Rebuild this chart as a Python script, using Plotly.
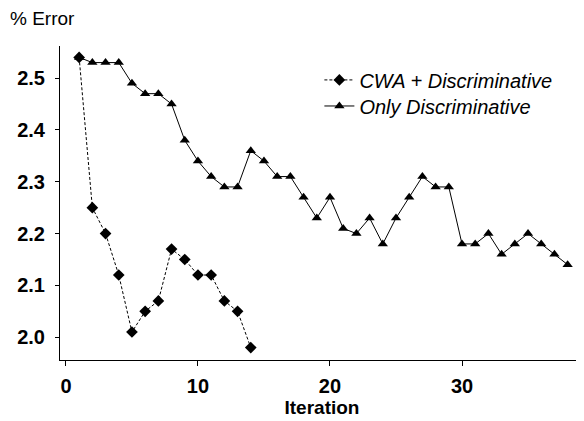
import plotly.graph_objects as go

iter_cwa = list(range(1, 15))
err_cwa = [2.54, 2.25, 2.20, 2.12, 2.01, 2.05, 2.07, 2.17, 2.15, 2.12, 2.12, 2.07, 2.05, 1.98]

iter_disc = list(range(1, 39))
err_disc = [2.54, 2.53, 2.53, 2.53, 2.49, 2.47, 2.47, 2.45, 2.38, 2.34,
            2.31, 2.29, 2.29, 2.36, 2.34, 2.31, 2.31, 2.27, 2.23, 2.27,
            2.21, 2.20, 2.23, 2.18, 2.23, 2.27, 2.31, 2.29, 2.29, 2.18,
            2.18, 2.20, 2.16, 2.18, 2.20, 2.18, 2.16, 2.14]

x_ticks = [0, 10, 20, 30]
y_ticks = [2.0, 2.1, 2.2, 2.3, 2.4, 2.5]

FONT = "Liberation Sans, Arial"

fig = go.Figure()
fig.add_trace(go.Scatter(
    x=iter_cwa, y=err_cwa, mode="lines+markers", name="CWA + Discriminative",
    line=dict(color="black", width=1, dash="3px,2px"),
    marker=dict(symbol="diamond", size=9, color="black"),
    legend="legend",
))
fig.add_trace(go.Scatter(
    x=iter_disc, y=err_disc, mode="lines+markers", name="Only Discriminative",
    line=dict(color="black", width=1),
    marker=dict(symbol="triangle-up", size=9, color="black"),
    legend="legend2",
))

leg_common = dict(xanchor="left", yanchor="middle", bgcolor="rgba(0,0,0,0)",
                  font=dict(size=20, family=FONT, style="italic"), itemwidth=30)

# page has an 8px body margin, so the figure is shifted by 8px
fig.update_layout(
    width=576, height=410,
    margin=dict(l=52, r=0, t=38, b=58, autoexpand=False),
    paper_bgcolor="white", plot_bgcolor="white",
    font=dict(family=FONT, color="black"),
    showlegend=True,
    legend=dict(x=0.495, y=0.892, **leg_common),
    legend2=dict(x=0.495, y=0.809, **leg_common),
    xaxis=dict(range=[-0.45, 39.24], tickvals=x_ticks, ticks="outside", ticklen=5,
               tickwidth=1, tickcolor="black", automargin=False,
               showline=True, linecolor="black", linewidth=1, mirror=False,
               showgrid=False, zeroline=False, ticklabelstandoff=3,
               tickfont=dict(size=20, family=FONT, weight="bold"),
               title=dict(text="<b>Iteration</b>", font=dict(size=19), standoff=15)),
    yaxis=dict(range=[1.956, 2.562], tickvals=y_ticks, tickformat=".1f",
               ticks="outside", ticklen=4, tickcolor="black", automargin=False,
               showline=True, linecolor="black", linewidth=1, mirror=True,
               showgrid=False, zeroline=False, ticklabelstandoff=6,
               tickfont=dict(size=20, family=FONT, weight="bold")),
    annotations=[dict(text="% Error", x=-0.099, y=1.089, xref="paper", yref="paper",
                      xanchor="left", yanchor="middle",
                      showarrow=False, font=dict(size=19))],
)

fig.write_html("out.html")
